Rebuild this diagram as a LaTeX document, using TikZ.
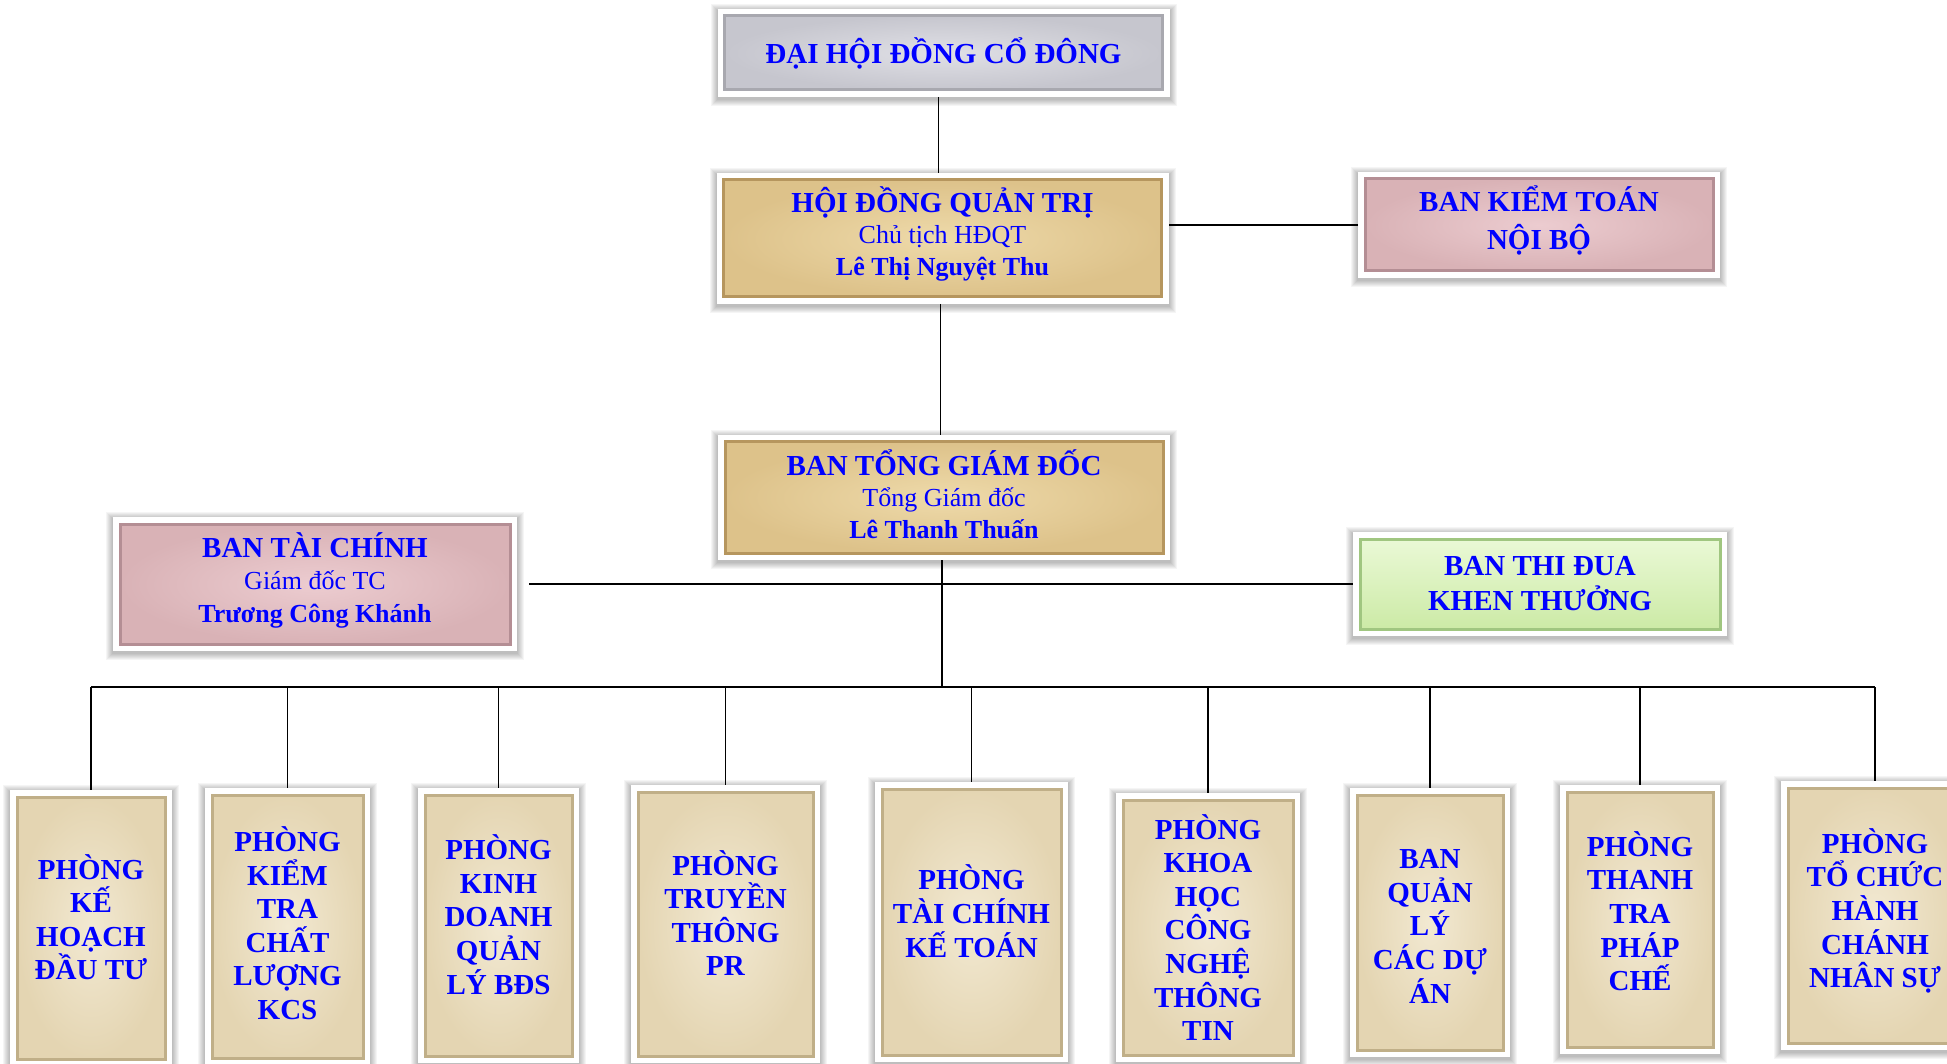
\documentclass[tikz,border=0pt]{standalone}
\usepackage{fontspec}
\setmainfont{Liberation Serif}
\usetikzlibrary{calc,backgrounds}
\definecolor{grayL}{RGB}{224,224,230}
\definecolor{grayD}{RGB}{198,198,206}
\definecolor{grayB}{RGB}{168,168,175}
\definecolor{tanL}{RGB}{238,218,170}
\definecolor{tanD}{RGB}{221,194,138}
\definecolor{tanB}{RGB}{182,150,94}
\definecolor{parL}{RGB}{242,233,210}
\definecolor{parD}{RGB}{228,213,178}
\definecolor{parB}{RGB}{192,175,136}
\definecolor{pinkL}{RGB}{236,204,208}
\definecolor{pinkD}{RGB}{217,178,182}
\definecolor{pinkB}{RGB}{180,142,148}
\definecolor{grnL}{RGB}{234,249,214}
\definecolor{grnD}{RGB}{204,234,166}
\definecolor{grnB}{RGB}{160,198,128}
\definecolor{txtblue}{RGB}{0,0,255}
\newcommand{\dn}[1]{\rule[-#1pt]{0pt}{#1pt}}
\newcommand{\upr}[1]{\rule{0pt}{#1pt}}
\begin{document}
\begin{tikzpicture}[x=1pt,y=-1pt,
  box/.style={rectangle, inner sep=0pt, outer sep=7pt, line width=3pt, text=txtblue, align=center},
  graybox/.style={box, inner color=grayL, outer color=grayD, draw=grayB},
  tanbox/.style={box, inner color=tanL, outer color=tanD, draw=tanB},
  parbox/.style={box, inner color=parL, outer color=parD, draw=parB},
  pinkbox/.style={box, inner color=pinkL, outer color=pinkD, draw=pinkB},
  grnbox/.style={box, top color=grnL, bottom color=grnD, draw=grnB},
  bigf/.style={font=\bfseries\fontsize{29}{31.5}\selectfont},
  twof/.style={font=\bfseries\fontsize{29}{#1}\selectfont},
  colf/.style={font=\bfseries\fontsize{29}{33.6}\selectfont},
  topw/.style={minimum width=438pt},
  col/.style={colf, minimum width=#1pt},
  conn/.style={draw=black, line width=1.5pt},
  busline/.style={draw=black, line width=2.2pt}
]
\useasboundingbox (0,0) rectangle (1947,1064);
\newcommand{\subreg}[1]{{\mdseries\fontsize{26}{31.5}\selectfont #1}}
\newcommand{\subbold}[1]{{\fontsize{26}{31.5}\selectfont #1}}

% top level
\node[graybox, bigf, topw, minimum height=74pt] (dh) at (943.5,53) {ĐẠI HỘI ĐỒNG CỔ ĐÔNG};
\node[tanbox, bigf, topw, minimum height=117pt] (hd) at (942.5,238.5)
  {HỘI ĐỒNG QUẢN TRỊ\\ \subreg{Chủ tịch HĐQT}\\ \subbold{Lê Thị Nguyệt Thu\dn{15}}};
\node[pinkbox, twof=37.5, minimum width=348pt, minimum height=92pt] (bkt) at (1539,225)
  {BAN KIỂM TOÁN\\NỘI BỘ\dn{15}};
\node[tanbox, bigf, topw, minimum height=111pt] (tgd) at (944,497.5)
  {BAN TỔNG GIÁM ĐỐC\\ \subreg{Tổng Giám đốc}\\ \subbold{Lê Thanh Thuấn\dn{7}}};
\node[pinkbox, bigf, minimum width=390pt, minimum height=120pt] (btc) at (315,584)
  {BAN TÀI CHÍNH\\ \subreg{Giám đốc TC}\\[2pt] \subbold{Trương Công Khánh\dn{12}}};
\node[grnbox, twof=35, minimum width=360pt, minimum height=90pt] (tdkt) at (1540,584)
  {BAN THI ĐUA\\KHEN THƯỞNG};

% departments
\node[parbox, col=148, minimum height=262pt] (p1) at (91,928) {PHÒNG\\KẾ\\HOẠCH\\ĐẦU TƯ\dn{22}};
\node[parbox, col=151, minimum height=263pt] (p2) at (287.5,926.5) {PHÒNG\\KIỂM\\TRA\\CHẤT\\LƯỢNG\\KCS\dn{7}};
\node[parbox, col=147, minimum height=261pt] (p3) at (498.5,925.5) {PHÒNG\\KINH\\DOANH\\QUẢN\\LÝ BĐS\dn{22}};
\node[parbox, col=175, minimum height=264pt] (p4) at (725.5,924) {PHÒNG\\TRUYỀN\\THÔNG\\PR\dn{22}};
\node[parbox, col=179, minimum height=266pt] (p5) at (971.5,922) {PHÒNG\\TÀI CHÍNH\\KẾ TOÁN\dn{22}};
\node[parbox, col=170, minimum height=255pt] (p6) at (1208,927.5) {PHÒNG\\KHOA\\HỌC\\CÔNG\\NGHỆ\\THÔNG\\TIN};
\node[parbox, col=146, minimum height=255pt] (p7) at (1430,922.5) {\upr{26.6}BAN\\QUẢN\\LÝ\\CÁC DỰ\\ÁN};
\node[parbox, col=146, minimum height=255pt] (p8) at (1640,919.5) {PHÒNG\\THANH\\TRA\\PHÁP\\CHẾ\dn{17}};
\node[parbox, col=174, minimum height=255pt] (p9) at (1875,915.5) {PHÒNG\\TỔ CHỨC\\HÀNH\\CHÁNH\\NHÂN SỰ\dn{15}};

% frames and shadows
\begin{scope}[on background layer]
  \fill[white] (0,0) rectangle (1947,1064);
  \foreach \n in {dh,hd,bkt,tgd,btc,tdkt,p1,p2,p3,p4,p5,p6,p7,p8,p9} {
    \foreach \k in {1,...,7}
      \fill[black,opacity=0.04] ($(\n.north west)+(-\k,-\k+2)$) rectangle ($(\n.south east)+(\k,\k+2)$);
    \fill[white] (\n.north west) rectangle (\n.south east);
  }
\end{scope}

% connectors
\coordinate (busy) at (0,687);
\draw[conn] ([xshift=-5pt]dh.south) -- ([xshift=-5pt]dh.south |- hd.north);
\draw[conn] (bkt.west) -- (bkt.west -| hd.east);
\draw[conn] ([xshift=-2pt]hd.south) -- ([xshift=-2pt]hd.south |- tgd.north);
\draw[conn] ([xshift=-2pt]tgd.south) -- ([xshift=-2pt]tgd.south |- busy);
\draw[conn] ([xshift=12pt]btc.east) -- (tdkt.west);
\draw[busline] (p1.north |- busy) -- (p9.north |- busy);
\foreach \i in {1,...,9}
  \draw[conn] (p\i.north |- busy) -- (p\i.north);
\end{tikzpicture}
\end{document}
